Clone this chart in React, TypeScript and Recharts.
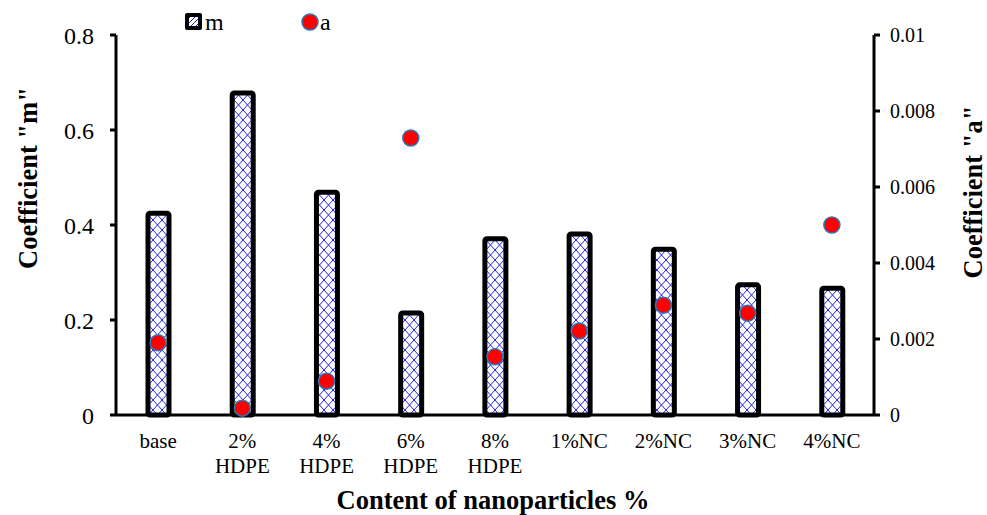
import React from 'react';
import { ComposedChart, Bar, Scatter, XAxis, YAxis } from 'recharts';

const categories = ['base', '2%\nHDPE', '4%\nHDPE', '6%\nHDPE', '8%\nHDPE', '1%NC', '2%NC', '3%NC', '4%NC'];
const mValues = [0.425, 0.678, 0.469, 0.215, 0.371, 0.381, 0.349, 0.274, 0.267];
const aValues = [0.0019, 0.00018, 0.00089, 0.00729, 0.00153, 0.00221, 0.00289, 0.00268, 0.005];
const leftTicks = [0, 0.2, 0.4, 0.6, 0.8];
const rightTicks = [0, 0.002, 0.004, 0.006, 0.008, 0.01];

const data = categories.map((name, i) => ({ name, m: mValues[i], a: aValues[i] }));

const FONT = '"Liberation Serif", "Times New Roman", serif';

const CategoryTick = (props: any) => {
  const { x, y, payload } = props;
  const lines = String(payload.value).split('\n');
  return (
    <text x={x} y={y + 25} textAnchor="middle" fontFamily={FONT} fontSize={21} fill="#000">
      {lines.map((l, i) => (
        <tspan key={i} x={x} dy={i === 0 ? 0 : 25}>{l}</tspan>
      ))}
    </text>
  );
};

const Dot = (props: any) => {
  const { cx, cy } = props;
  return <circle cx={cx} cy={cy} r={8} fill="#ff0000" stroke="#2e75b6" strokeWidth={1.5} />;
};

// axis titles (Excel placed the y titles a bit above centre)
const titleStyle = { fontFamily: FONT, fontSize: 26.5, fontWeight: 'bold' as const, fill: '#000' };

const LeftTitle = () => (
  <text x={28} y={178} transform="rotate(-90 28 178)" textAnchor="middle" dominantBaseline="central" {...titleStyle}>
    Coefficient "m"
  </text>
);
const RightTitle = () => (
  <text x={973} y={192} transform="rotate(-90 973 192)" textAnchor="middle" dominantBaseline="central" {...titleStyle}>
    Coefficient "a"
  </text>
);
const BottomTitle = () => (
  <text x={493} y={509} textAnchor="middle" {...titleStyle}>
    Content of nanoparticles %
  </text>
);

// legend drawn as an overlay so it doesn't steal plot space
const LegendBox = () => (
  <svg width={200} height={40} style={{ position: 'absolute', left: 178, top: 4, fontFamily: FONT }}>
    <defs>
      <pattern id="hatchLegend" width={5} height={5} patternUnits="userSpaceOnUse">
        <rect width={5} height={5} fill="#fff" />
        <path d="M0,5 L5,0" stroke="#1a1aff" strokeWidth={1} />
      </pattern>
    </defs>
    <rect x={7} y={9} width={17} height={17} rx={2} fill="#000" />
    <rect x={11} y={13} width={9} height={9} fill="url(#hatchLegend)" />
    <text x={27} y={26} fontSize={24} fill="#000">m</text>
    <circle cx={132} cy={18} r={8} fill="#ff0000" stroke="#2e75b6" strokeWidth={1.5} />
    <text x={142} y={26} fontSize={24} fill="#000">a</text>
  </svg>
);

export default function App() {
  return (
    <div style={{ position: 'absolute', left: 0, top: 0, width: 987, height: 515, background: '#fff' }}>
      <ComposedChart
        width={987}
        height={515}
        data={data}
        margin={{ top: 35, right: 0, bottom: 0, left: 0 }}
        style={{ fontFamily: FONT }}
      >
        <defs>
          <pattern id="hatch" width={9} height={10} patternUnits="userSpaceOnUse">
            <rect width={9} height={10} fill="#fff" />
            <path d="M0,0 L9,10 M9,0 L0,10" stroke="#2222ee" strokeWidth={1} />
          </pattern>
        </defs>
        <XAxis
          dataKey="name"
          height={100}
          axisLine={{ stroke: '#000', strokeWidth: 3 }}
          tickLine={false}
          tick={<CategoryTick />}
          interval={0}
          label={{ content: () => <BottomTitle /> }}
        />
        <YAxis
          yAxisId="left"
          width={116}
          domain={[0, 0.8]}
          ticks={leftTicks}
          tickFormatter={(v: number) => String(v)}
          axisLine={{ stroke: '#000', strokeWidth: 3 }}
          tickLine={{ stroke: '#000', strokeWidth: 3 }}
          tickSize={6}
          tick={{ fontFamily: FONT, fontSize: 24, fill: '#000' }}
          tickMargin={16}
          label={{ content: () => <LeftTitle /> }}
        />
        <YAxis
          yAxisId="right"
          orientation="right"
          width={113}
          domain={[0, 0.01]}
          ticks={rightTicks}
          tickFormatter={(v: number) => String(v)}
          axisLine={{ stroke: '#000', strokeWidth: 3 }}
          tickLine={{ stroke: '#000', strokeWidth: 3 }}
          tickSize={6}
          tick={{ fontFamily: FONT, fontSize: 20, fill: '#000' }}
          tickMargin={10}
          label={{ content: () => <RightTitle /> }}
        />
        <Bar
          yAxisId="left"
          dataKey="m"
          name="m"
          barSize={21}
          fill="url(#hatch)"
          stroke="#000"
          strokeWidth={5}
          radius={2}
          isAnimationActive={false}
        />
        <Scatter yAxisId="right" dataKey="a" name="a" shape={<Dot />} isAnimationActive={false} />
      </ComposedChart>
      <LegendBox />
    </div>
  );
}
